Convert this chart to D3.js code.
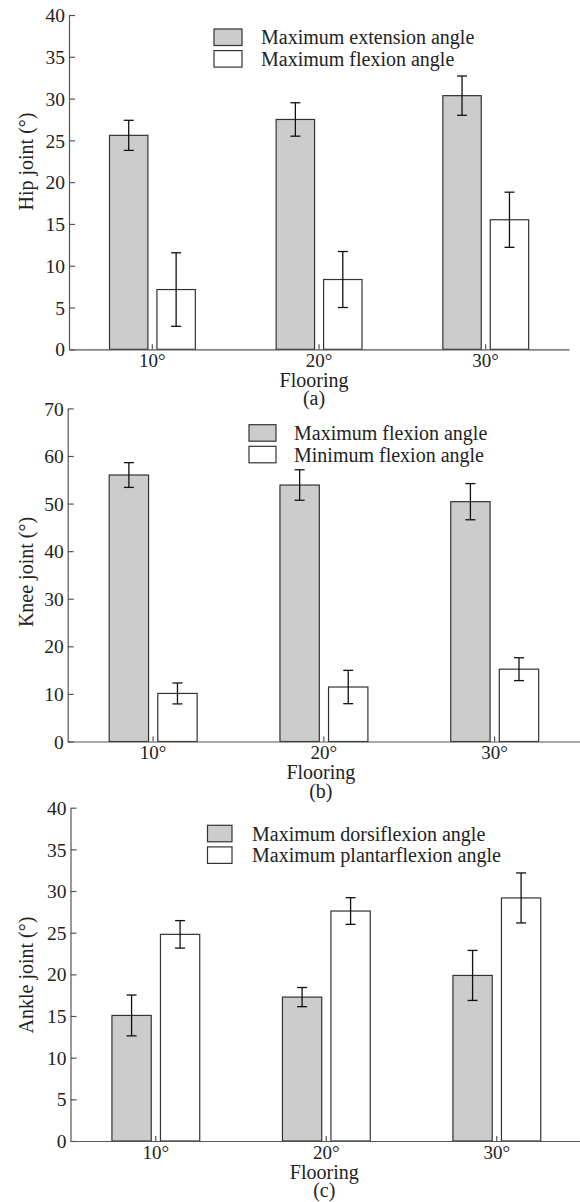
<!DOCTYPE html>
<html>
<head>
<meta charset="utf-8">
<script src="https://cdn.jsdelivr.net/npm/d3@7"></script>
<style>
  body { margin: 0; background: #fff; }
  svg text { font-family: "Liberation Serif", "Times New Roman", serif; fill: #222; }
  .axis path, .axis line { stroke: #555; stroke-width: 1.2; }
</style>
</head>
<body>
<script>
//chart values
var categories = ["10°", "20°", "30°"];

var hipExtension = [25.6, 27.5, 30.35];
var hipExtensionErr = [1.8, 2.0, 2.35];
var hipFlexion = [7.15, 8.35, 15.5];
var hipFlexionErr = [4.4, 3.35, 3.3];

var kneeMaxFlexion = [56.0, 53.9, 50.4];
var kneeMaxFlexionErr = [2.6, 3.2, 3.8];
var kneeMinFlexion = [10.1, 11.45, 15.2];
var kneeMinFlexionErr = [2.2, 3.5, 2.4];

var ankleDorsi = [15.07, 17.27, 19.87];
var ankleDorsiErr = [2.45, 1.15, 3.0];
var anklePlantar = [24.8, 27.6, 29.17];
var anklePlantarErr = [1.65, 1.6, 3.0];

var hipTicks = [0, 5, 10, 15, 20, 25, 30, 35, 40];
var kneeTicks = [0, 10, 20, 30, 40, 50, 60, 70];
var ankleTicks = [0, 5, 10, 15, 20, 25, 30, 35, 40];

var svg = d3.select("body").append("svg")
    .attr("width", 580)
    .attr("height", 1202);

//panel layout (pixel positions measured on the reference)
var panels = [
    {
        title: "Hip joint (°)", label: "(a)", ticks: hipTicks,
        series: [
            {name: "Maximum extension angle", values: hipExtension, err: hipExtensionErr, fill: "#cccccc"},
            {name: "Maximum flexion angle", values: hipFlexion, err: hipFlexionErr, fill: "#ffffff"}
        ],
        top: 15, bottom: 349.3, left: 69, right: 569, titleY: 161.5,
        legX: 214, legY: 29, legW: 28, textX: 261, xLabelShift: -5
    },
    {
        title: "Knee joint (°)", label: "(b)", ticks: kneeTicks,
        series: [
            {name: "Maximum flexion angle", values: kneeMaxFlexion, err: kneeMaxFlexionErr, fill: "#cccccc"},
            {name: "Minimum flexion angle", values: kneeMinFlexion, err: kneeMinFlexionErr, fill: "#ffffff"}
        ],
        top: 408.4, bottom: 741.5, left: 67.7, right: 580, titleY: 572,
        legX: 249, legY: 424.7, legW: 27, textX: 294, xLabelShift: -3
    },
    {
        title: "Ankle joint (°)", label: "(c)", ticks: ankleTicks,
        series: [
            {name: "Maximum dorsiflexion angle", values: ankleDorsi, err: ankleDorsiErr, fill: "#cccccc"},
            {name: "Maximum plantarflexion angle", values: anklePlantar, err: anklePlantarErr, fill: "#ffffff"}
        ],
        top: 807.7, bottom: 1141, left: 70.5, right: 582, titleY: 975,
        legX: 207.5, legY: 825.3, legW: 24.5, textX: 252, xLabelShift: -2
    }
];

panels.forEach(drawPanel);

function drawPanel(p) {
    var g = svg.append("g");

    var x = d3.scaleBand()
        .domain(categories)
        .range([p.left, p.right]);
    var W = x.bandwidth();

    //inner scale for the two bars of each group, relative to group centre
    var x1 = d3.scaleBand()
        .domain([0, 1])
        .range([-0.257 * W, 0.258 * W])
        .paddingInner(0.19);

    var y = d3.scaleLinear()
        .domain([0, d3.max(p.ticks)])
        .range([p.bottom, p.top]);

    //bars
    p.series.forEach(function (s, si) {
        g.selectAll(".bar" + si)
            .data(categories)
            .enter()
            .append("rect")
            .attr("x", function (d) { return x(d) + W / 2 + x1(si); })
            .attr("y", function (d, i) { return y(s.values[i]); })
            .attr("width", x1.bandwidth())
            .attr("height", function (d, i) { return p.bottom - y(s.values[i]); })
            .attr("fill", s.fill)
            .attr("stroke", "#333")
            .attr("stroke-width", 1.2);
    });

    //error bars
    p.series.forEach(function (s, si) {
        categories.forEach(function (c, i) {
            var cx = x(c) + W / 2 + x1(si) + x1.bandwidth() / 2;
            var hi = y(s.values[i] + s.err[i]), lo = y(s.values[i] - s.err[i]);
            var eb = g.append("g").attr("stroke", "#111").attr("stroke-width", 1.3);
            eb.append("line").attr("x1", cx).attr("x2", cx).attr("y1", hi).attr("y2", lo);
            eb.append("line").attr("x1", cx - 5).attr("x2", cx + 5).attr("y1", hi).attr("y2", hi);
            eb.append("line").attr("x1", cx - 5).attr("x2", cx + 5).attr("y1", lo).attr("y2", lo);
        });
    });

    //axes, ticks point inward
    var yAxis = g.append("g")
        .attr("class", "axis")
        .attr("transform", "translate(" + p.left + ",0)")
        .call(d3.axisLeft(y).tickValues(p.ticks).tickSizeInner(-6).tickSizeOuter(0).tickPadding(4));
    yAxis.selectAll("text").style("font-size", "19.5px").attr("dy", "0.34em");

    var xAxis = g.append("g")
        .attr("class", "axis")
        .attr("transform", "translate(0," + p.bottom + ")")
        .call(d3.axisBottom(x).tickSizeInner(-5).tickSizeOuter(0).tickPadding(4.5));
    xAxis.selectAll("text").style("font-size", "19px");

    //axis titles
    g.append("text")
        .attr("transform", "translate(33," + p.titleY + ") rotate(-90)")
        .attr("text-anchor", "middle")
        .style("font-size", "20px")
        .text(p.title);

    var midX = x(categories[1]) + W / 2 + p.xLabelShift;
    g.append("text")
        .attr("x", midX)
        .attr("y", p.bottom + 37.5)
        .attr("text-anchor", "middle")
        .style("font-size", "20px")
        .text("Flooring");
    g.append("text")
        .attr("x", midX)
        .attr("y", p.bottom + 56)
        .attr("text-anchor", "middle")
        .style("font-size", "20px")
        .text(p.label);

    //legend
    p.series.forEach(function (s, si) {
        var ly = p.legY + si * 21.6;
        g.append("rect")
            .attr("x", p.legX)
            .attr("y", ly)
            .attr("width", p.legW)
            .attr("height", 16.5)
            .attr("fill", s.fill)
            .attr("stroke", "#333")
            .attr("stroke-width", 1.2);
        g.append("text")
            .attr("x", p.textX)
            .attr("y", ly + 15.2)
            .style("font-size", "20px")
            .text(s.name);
    });
}
</script>
</body>
</html>
